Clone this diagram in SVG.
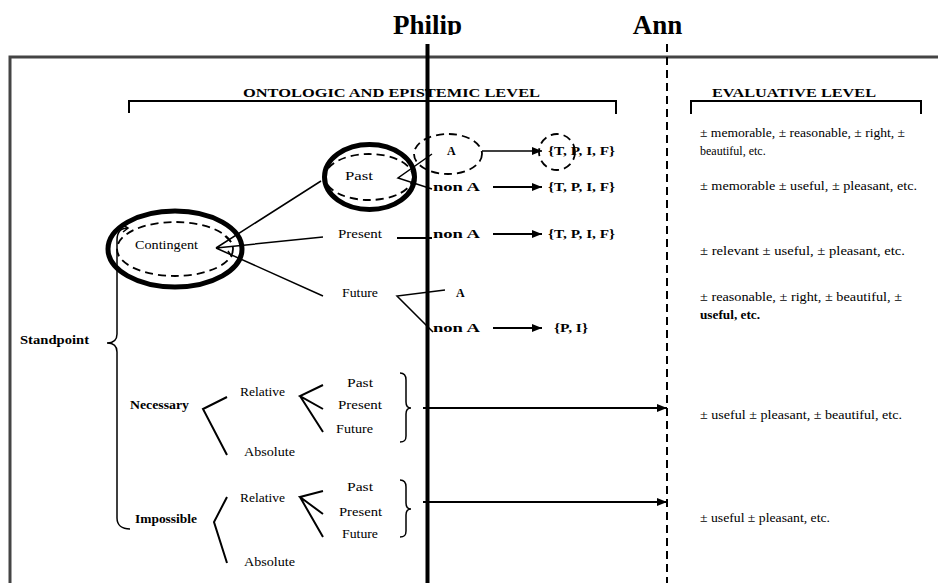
<svg xmlns="http://www.w3.org/2000/svg" width="938" height="583" viewBox="0 0 938 583" font-family="'Liberation Serif', 'DejaVu Serif', serif">
  <style>
    text { font-family: "Liberation Serif", "DejaVu Serif", serif; fill: #000; }
    .lbl { font-size: 12px; }
    .bld { font-size: 12px; font-weight: bold; }
    .hdr { font-size: 13px; font-weight: bold; }
    .who { font-size: 27px; font-weight: bold; }
    .ln  { fill: none; stroke: #000; stroke-width: 1.5; }
    .ln2 { fill: none; stroke: #000; stroke-width: 2; }
    .thick { fill: none; stroke: #000; stroke-width: 5; }
    .dash { fill: none; stroke: #000; stroke-width: 1.8; stroke-dasharray: 8 5; }
    .frame { fill: none; stroke: #444; stroke-width: 3; }
  </style>
  <defs>
    <marker id="head" markerUnits="userSpaceOnUse" markerWidth="10" markerHeight="8" refX="10" refY="4" orient="auto">
      <path d="M0,0 L10,4 L0,8 Z" fill="#000"/>
    </marker>
    <clipPath id="nameClip">
      <rect x="0" y="0" width="938" height="35"/>
    </clipPath>
  </defs>

  <rect width="938" height="583" fill="#fff"/>

  <!-- frame -->
  <path class="frame" d="M10,583 L10,57 L938,57"/>

  <!-- speaker names -->
  <g id="philip-label" clip-path="url(#nameClip)">
    <text class="who" x="427.5" y="34" text-anchor="middle">Philip</text>
  </g>
  <g id="ann-label">
    <text class="who" x="657.5" y="34" text-anchor="middle">Ann</text>
  </g>

  <!-- level headings with brackets -->
  <g id="ontologic-heading">
    <text class="hdr" x="243" y="97" textLength="297" lengthAdjust="spacingAndGlyphs">ONTOLOGIC AND EPISTEMIC LEVEL</text>
    <path class="ln2" d="M129,113 L129,101 L616,101 L616,114"/>
  </g>
  <g id="evaluative-heading">
    <text class="hdr" x="712" y="97" textLength="164" lengthAdjust="spacingAndGlyphs">EVALUATIVE LEVEL</text>
    <path class="ln2" d="M691,114 L691,101 L921,101 L921,114"/>
  </g>

  <!-- connectors -->
  <g id="connectors">
    <!-- standpoint brace -->
    <path class="ln" d="M128,228 C121,228 117,232 117,240 L117,334 C117,340 113,343 107,343 C113,343 117,346 117,352 L117,518 C117,525 122,529 130,529"/>
    <path class="ln" d="M123,225 L128,228 L123,232"/>
    <!-- contingent branches -->
    <path class="ln" d="M216,248 L321,181 M216,248 L323,237 M216,248 L323,296"/>
    <path class="ln" d="M225,236 L231,242 M228,251 L232,257"/>
    <!-- past branches -->
    <path class="ln" d="M432,154 L398,178 L432,189"/>
    <!-- present to non A -->
    <path class="ln2" d="M397,238 L432,238"/>
    <!-- future branches -->
    <path class="ln" d="M445,290 L397,296 L433,332"/>
    <!-- value arrows -->
    <path class="ln" d="M482,151 L542,151" marker-end="url(#head)"/>
    <path class="ln2" d="M493,187 L542,187" marker-end="url(#head)"/>
    <path class="ln2" d="M493,234 L542,234" marker-end="url(#head)"/>
    <path class="ln2" d="M493,328 L542,328" marker-end="url(#head)"/>
    <!-- necessary branches -->
    <path class="ln2" d="M227,397 L203,409 L227,455"/>
    <path class="ln2" d="M323,385 L300,396 L323,409 M300,396 L323,432"/>
    <path class="ln" d="M400,373 C404,373 406,375 406,380 L406,402 C406,406 408,408 411,408 C408,408 406,410 406,414 L406,436 C406,441 404,442 400,442"/>
    <path class="ln2" d="M423,408 L667,408" marker-end="url(#head)"/>
    <!-- impossible branches -->
    <path class="ln2" d="M227,497 L214,522 L227,563"/>
    <path class="ln2" d="M323,491 L300,497 L323,514 M300,497 L323,537"/>
    <path class="ln" d="M400,480 C404,480 406,482 406,487 L406,503 C406,507 408,509 411,509 C408,509 406,511 406,515 L406,531 C406,536 404,537 400,537"/>
    <path class="ln2" d="M423,502 L667,502" marker-end="url(#head)"/>
  </g>

  <!-- nodes -->
  <g id="standpoint">
    <text class="bld" x="20" y="344" textLength="69" lengthAdjust="spacingAndGlyphs">Standpoint</text>
  </g>
  <g id="contingent">
    <ellipse class="thick" cx="175" cy="249" rx="67" ry="38"/>
    <ellipse class="dash" cx="175" cy="249" rx="58" ry="27"/>
    <text class="lbl" x="135" y="249" textLength="63" lengthAdjust="spacingAndGlyphs">Contingent</text>
  </g>
  <g id="contingent-past">
    <ellipse class="thick" cx="369.5" cy="177" rx="45" ry="32.5"/>
    <ellipse class="dash" cx="369" cy="177" rx="44" ry="23"/>
    <text class="lbl" x="345" y="180" textLength="28" lengthAdjust="spacingAndGlyphs">Past</text>
  </g>
  <g id="contingent-present">
    <text class="lbl" x="338" y="238" textLength="44" lengthAdjust="spacingAndGlyphs">Present</text>
  </g>
  <g id="contingent-future">
    <text class="lbl" x="342" y="297" textLength="36" lengthAdjust="spacingAndGlyphs">Future</text>
  </g>

  <g id="past-a">
    <ellipse class="dash" cx="448" cy="154" rx="34" ry="20"/>
    <text class="bld" x="447" y="155">A</text>
  </g>
  <g id="past-a-values">
    <ellipse class="dash" cx="557" cy="152" rx="18" ry="18"/>
    <text class="bld" x="548" y="155" textLength="67" lengthAdjust="spacingAndGlyphs">{T, P, I, F}</text>
  </g>
  <g id="past-non-a">
    <text class="bld" x="433" y="191" textLength="47" lengthAdjust="spacingAndGlyphs">non A</text>
  </g>
  <g id="past-non-a-values">
    <text class="bld" x="548" y="191" textLength="67" lengthAdjust="spacingAndGlyphs">{T, P, I, F}</text>
  </g>
  <g id="present-non-a">
    <text class="bld" x="433" y="238" textLength="47" lengthAdjust="spacingAndGlyphs">non A</text>
  </g>
  <g id="present-non-a-values">
    <text class="bld" x="548" y="238" textLength="67" lengthAdjust="spacingAndGlyphs">{T, P, I, F}</text>
  </g>
  <g id="future-a">
    <text class="bld" x="456" y="297">A</text>
  </g>
  <g id="future-non-a">
    <text class="bld" x="433" y="332" textLength="47" lengthAdjust="spacingAndGlyphs">non A</text>
  </g>
  <g id="future-non-a-values">
    <text class="bld" x="554" y="332" textLength="34" lengthAdjust="spacingAndGlyphs">{P, I}</text>
  </g>

  <g id="necessary">
    <text class="bld" x="130" y="409" textLength="59" lengthAdjust="spacingAndGlyphs">Necessary</text>
  </g>
  <g id="necessary-relative">
    <text class="lbl" x="240" y="396" textLength="45" lengthAdjust="spacingAndGlyphs">Relative</text>
  </g>
  <g id="necessary-absolute">
    <text class="lbl" x="244" y="456" textLength="51" lengthAdjust="spacingAndGlyphs">Absolute</text>
  </g>
  <g id="necessary-times">
    <text class="lbl" x="347" y="387" textLength="26" lengthAdjust="spacingAndGlyphs">Past</text>
    <text class="lbl" x="338" y="409" textLength="44" lengthAdjust="spacingAndGlyphs">Present</text>
    <text class="lbl" x="336" y="433" textLength="37" lengthAdjust="spacingAndGlyphs">Future</text>
  </g>

  <g id="impossible">
    <text class="bld" x="135" y="523" textLength="62" lengthAdjust="spacingAndGlyphs">Impossible</text>
  </g>
  <g id="impossible-relative">
    <text class="lbl" x="240" y="502" textLength="45" lengthAdjust="spacingAndGlyphs">Relative</text>
  </g>
  <g id="impossible-absolute">
    <text class="lbl" x="244" y="566" textLength="51" lengthAdjust="spacingAndGlyphs">Absolute</text>
  </g>
  <g id="impossible-times">
    <text class="lbl" x="347" y="491" textLength="26" lengthAdjust="spacingAndGlyphs">Past</text>
    <text class="lbl" x="339" y="516" textLength="43" lengthAdjust="spacingAndGlyphs">Present</text>
    <text class="lbl" x="342" y="538" textLength="36" lengthAdjust="spacingAndGlyphs">Future</text>
  </g>

  <!-- evaluative descriptions -->
  <g id="eval-1">
    <text class="lbl" x="700" y="137" textLength="205" lengthAdjust="spacingAndGlyphs">± memorable, ± reasonable, ± right, ±</text>
    <text class="lbl" x="700" y="155">beautiful, etc.</text>
  </g>
  <g id="eval-2">
    <text class="lbl" x="700" y="190" textLength="217" lengthAdjust="spacingAndGlyphs">± memorable ± useful, ± pleasant, etc.</text>
  </g>
  <g id="eval-3">
    <text class="lbl" x="700" y="255" textLength="205" lengthAdjust="spacingAndGlyphs">± relevant ± useful, ± pleasant, etc.</text>
  </g>
  <g id="eval-4">
    <text class="lbl" x="700" y="301" textLength="202" lengthAdjust="spacingAndGlyphs">± reasonable, ± right, ± beautiful, ±</text>
    <text class="bld" x="700" y="319" textLength="60" lengthAdjust="spacingAndGlyphs">useful, etc.</text>
  </g>
  <g id="eval-5">
    <text class="lbl" x="700" y="419" textLength="202" lengthAdjust="spacingAndGlyphs">± useful ± pleasant, ± beautiful, etc.</text>
  </g>
  <g id="eval-6">
    <text class="lbl" x="700" y="522" textLength="130" lengthAdjust="spacingAndGlyphs">± useful ± pleasant, etc.</text>
  </g>

  <!-- speaker dividers -->
  <g id="philip-line">
    <line x1="427.5" y1="44" x2="427.5" y2="583" stroke="#000" stroke-width="4"/>
  </g>
  <g id="ann-line">
    <line x1="667" y1="44" x2="667" y2="583" stroke="#000" stroke-width="2" stroke-dasharray="8 5"/>
  </g>
</svg>
